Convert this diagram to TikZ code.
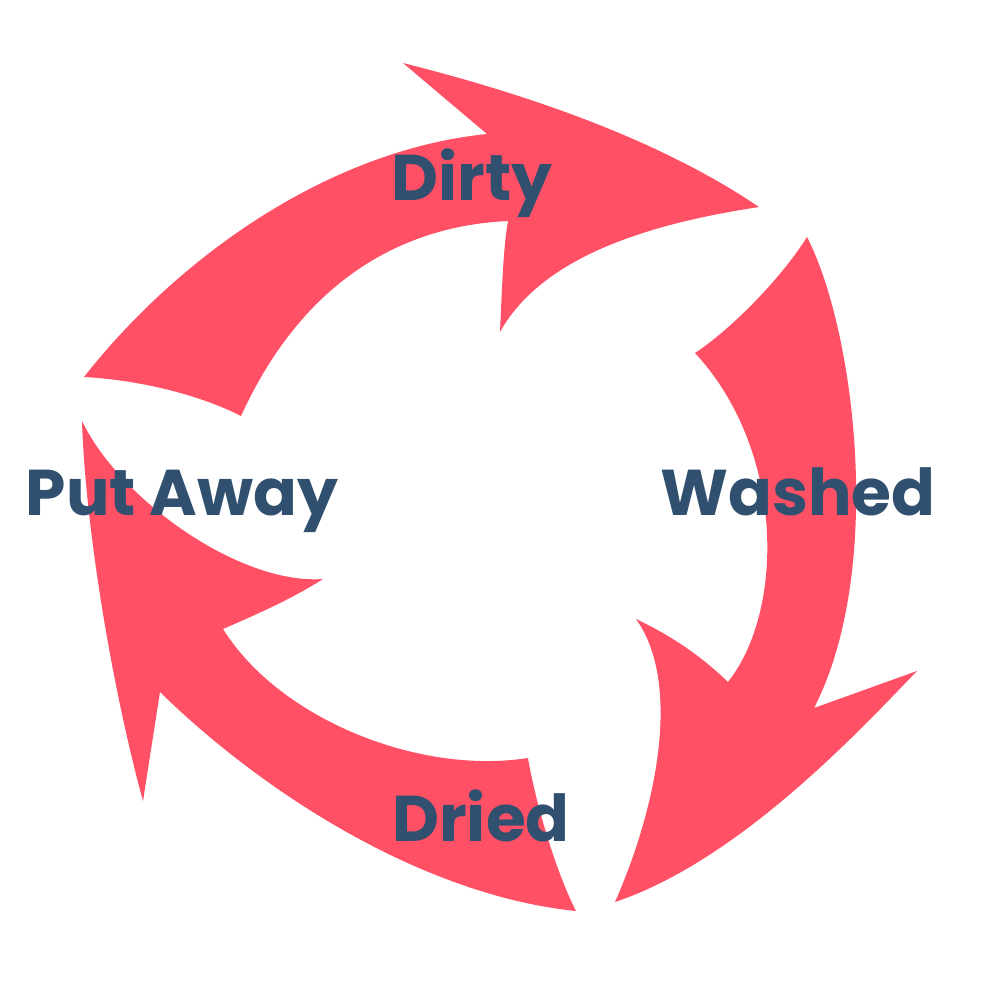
\documentclass[tikz,border=0pt]{standalone}
\usepackage{fontspec}
\newfontfamily\lblfont{Poppins}
\definecolor{arrowred}{HTML}{FF5065}
\definecolor{textblue}{HTML}{31506F}
\begin{document}
\begin{tikzpicture}[x=0.1mm,y=-0.1mm,
  cyclearrow/.style={fill=arrowred,draw=none},
  lbl/.style={anchor=base,text=textblue,inner sep=0pt,font=\lblfont\bfseries\fontsize{18.4}{22}\selectfont}]
\useasboundingbox (0,0) rectangle (1000,1000);
% top arrow (Dirty)
\fill[cyclearrow] (84,377) .. controls (180,255) and (330,150) .. (487,134)
  -- (403,63)
  .. controls (530,95) and (660,140) .. (759,207)
  .. controls (640,225) and (540,260) .. (500,332)
  .. controls (502,290) and (503,250) .. (508,221)
  .. controls (420,225) and (310,265) .. (241,416)
  .. controls (200,395) and (140,380) .. (84,377) -- cycle;
% right arrow (Washed)
\fill[cyclearrow] (807,237) .. controls (855,330) and (885,570) .. (814,708)
  -- (917,671)
  .. controls (860,730) and (740,860) .. (615,902)
  .. controls (660,800) and (680,680) .. (636,619)
  .. controls (670,635) and (700,655) .. (728,682)
  .. controls (785,610) and (785,450) .. (695,353)
  .. controls (730,330) and (780,280) .. (807,237) -- cycle;
% bottom-left arrow (Dried -> Put Away)
\fill[cyclearrow] (528,758) .. controls (535,800) and (555,870) .. (576,911)
  .. controls (420,895) and (260,790) .. (160,692)
  -- (143,801)
  .. controls (110,680) and (85,520) .. (82,421)
  .. controls (120,500) and (240,585) .. (323,579)
  .. controls (290,600) and (255,615) .. (223,629)
  .. controls (280,720) and (420,775) .. (528,758) -- cycle;
% labels
\node[lbl] (dirty) at (472,200) {Dirty};
\node[lbl] (washed) at (798,515) {Washed};
\node[lbl] (dried) at (481,841) {Dried};
\node[lbl] (putaway) at (182,515) {Put Away};
\end{tikzpicture}
\end{document}
